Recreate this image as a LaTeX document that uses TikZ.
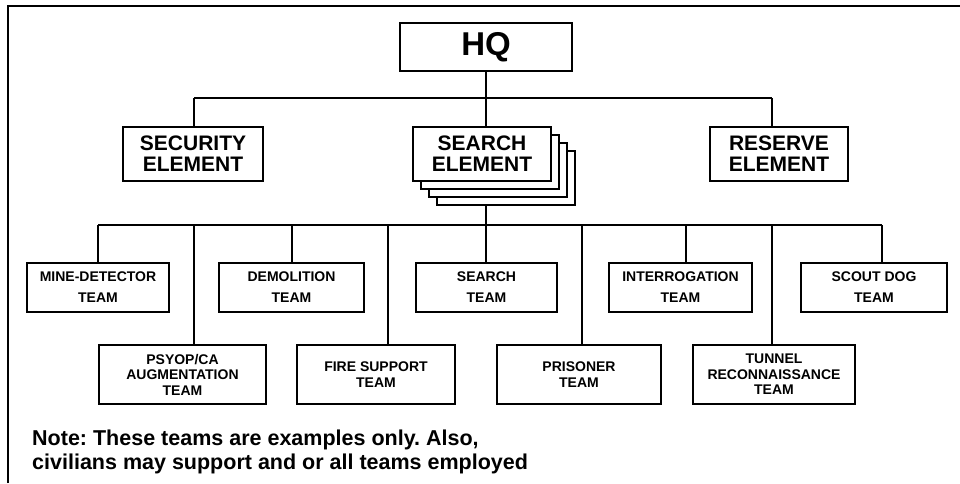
\documentclass[tikz,border=0pt]{standalone}
\usepackage{fontspec}
\setmainfont{Liberation Sans}
\frenchspacing
\tikzset{
	boxstyle/.style={rectangle, draw=black, fill=white, line width=1.1pt, inner sep=2pt, align=center},
	hqstyle/.style={boxstyle, minimum width=172, minimum height=48, font=\bfseries\fontsize{33}{33}\selectfont},
	elemstyle/.style={boxstyle, minimum height=54, font=\bfseries\fontsize{21}{21}\selectfont},
	teamstyle/.style={boxstyle, minimum height=49, font=\bfseries\fontsize{14}{21}\selectfont},
	lowteamstyle/.style={boxstyle, minimum height=59, font=\bfseries\fontsize{14}{15.5}\selectfont},
	notestyle/.style={inner sep=0pt, align=left, font=\bfseries\fontsize{21.5}{23.5}\selectfont},
	linkstyle/.style={line width=1.1pt}
}

\begin{document}
\begin{tikzpicture}[x=1pt, y=-1pt]
	\useasboundingbox (0,0) rectangle (960,483);
	\draw[line width=1.6pt] (8,483)--(8,6)--(960,6);
	\node[hqstyle] (hq) at (486,47) {HQ};
	\node[elemstyle, minimum width=140] (sec) at (193,154) {SECURITY\\ELEMENT};
	\node[elemstyle, minimum width=138] (se3) at (506,178) {};
	\node[elemstyle, minimum width=138] (se2) at (498,170) {};
	\node[elemstyle, minimum width=138] (se1) at (490,162) {};
	\node[elemstyle, minimum width=138] (se) at (482,154) {SEARCH\\ELEMENT};
	\node[elemstyle, minimum width=138] (res) at (779,154) {RESERVE\\ELEMENT};
	\node[teamstyle, minimum width=142] (mine) at (98,287.5) {MINE-DETECTOR\\TEAM};
	\node[teamstyle, minimum width=145] (demo) at (291.5,287.5) {DEMOLITION\\TEAM};
	\node[teamstyle, minimum width=141] (srch) at (486.5,287.5) {SEARCH\\TEAM};
	\node[teamstyle, minimum width=143] (intr) at (680.5,287.5) {INTERROGATION\\TEAM};
	\node[teamstyle, minimum width=146] (dog) at (874,287.5) {SCOUT DOG\\TEAM};
	\node[lowteamstyle, minimum width=167] (psy) at (182.5,374.5) {PSYOP/CA\\AUGMENTATION\\TEAM};
	\node[lowteamstyle, minimum width=158] (fire) at (376,374.5) {FIRE SUPPORT\\TEAM};
	\node[lowteamstyle, minimum width=164] (pris) at (579,374.5) {PRISONER\\TEAM};
	\node[lowteamstyle, minimum width=162] (tun) at (774,374.5) {TUNNEL\\RECONNAISSANCE\\TEAM};
	\node[notestyle, anchor=north west] (note) at (32,430) {Note: These teams are examples only. Also,\\civilians may support and or all teams employed};
	\coordinate (t-sec) at (194,98);
	\coordinate (t-res) at (772,98);
	\coordinate (d-mine) at (98,225);
	\coordinate (d-psy) at (194,225);
	\coordinate (d-demo) at (292,225);
	\coordinate (d-fire) at (388,225);
	\coordinate (d-srch) at (486,225);
	\coordinate (d-pris) at (582,225);
	\coordinate (d-intr) at (686,225);
	\coordinate (d-tun) at (772,225);
	\coordinate (d-dog) at (882,225);
	\draw[linkstyle] (hq.south)--(hq.south |- se.north);
	\draw[linkstyle] (t-sec)--(t-res);
	\draw[linkstyle] (t-sec)--(t-sec |- sec.north);
	\draw[linkstyle] (t-res)--(t-res |- res.north);
	\draw[linkstyle] (d-srch |- se3.south)--(d-srch);
	\draw[linkstyle] (d-mine)--(d-dog);
	\draw[linkstyle] (d-mine)--(d-mine |- mine.north);
	\draw[linkstyle] (d-psy)--(d-psy |- psy.north);
	\draw[linkstyle] (d-demo)--(d-demo |- demo.north);
	\draw[linkstyle] (d-fire)--(d-fire |- fire.north);
	\draw[linkstyle] (d-srch)--(d-srch |- srch.north);
	\draw[linkstyle] (d-pris)--(d-pris |- pris.north);
	\draw[linkstyle] (d-intr)--(d-intr |- intr.north);
	\draw[linkstyle] (d-tun)--(d-tun |- tun.north);
	\draw[linkstyle] (d-dog)--(d-dog |- dog.north);
\end{tikzpicture}
\end{document}
